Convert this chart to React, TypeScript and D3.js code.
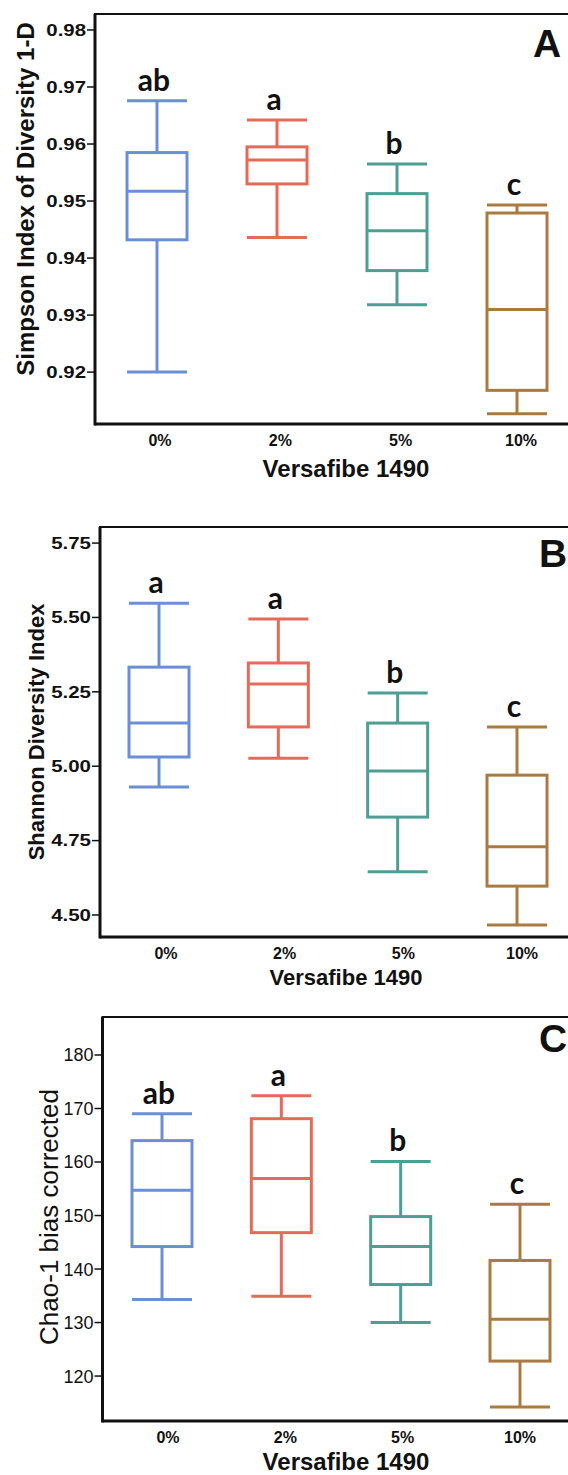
import React from "react";
import * as d3 from "d3";

const groups = ["0%", "2%", "5%", "10%"];
const colors = ["#6b8fd6", "#e56b59", "#4d9e93", "#a97b42"];

// panel A - Simpson 1-D
const simpsonLow = [0.92, 0.9436, 0.9318, 0.9127];
const simpsonQ1 = [0.9432, 0.953, 0.9378, 0.9168];
const simpsonMedian = [0.9517, 0.9572, 0.9448, 0.931];
const simpsonQ3 = [0.9585, 0.9595, 0.9513, 0.9479];
const simpsonHigh = [0.9676, 0.9642, 0.9565, 0.9493];
const simpsonLetters = ["ab", "a", "b", "c"];
const simpsonTicks = [0.92, 0.93, 0.94, 0.95, 0.96, 0.97, 0.98];

// panel B - Shannon
const shannonLow = [4.93, 5.027, 4.645, 4.466];
const shannonQ1 = [5.031, 5.132, 4.829, 4.597];
const shannonMedian = [5.145, 5.276, 4.984, 4.729];
const shannonQ3 = [5.333, 5.347, 5.145, 4.97];
const shannonHigh = [5.548, 5.495, 5.246, 5.132];
const shannonLetters = ["a", "a", "b", "c"];
const shannonTicks = [4.5, 4.75, 5.0, 5.25, 5.5, 5.75];

// panel C - Chao-1
const chaoLow = [134.3, 134.9, 130.0, 114.2];
const chaoQ1 = [144.2, 146.8, 137.1, 122.8];
const chaoMedian = [154.7, 156.9, 144.2, 130.6];
const chaoQ3 = [164.0, 168.1, 149.8, 141.6];
const chaoHigh = [169.0, 172.4, 160.1, 152.1];
const chaoLetters = ["ab", "a", "b", "c"];
const chaoTicks = [120, 130, 140, 150, 160, 170, 180];

const arial = "'Liberation Sans', Arial, sans-serif";
const lato = "Lato, 'Open Sans', sans-serif";

type PanelProps = {
  id: string;
  title: string;
  low: number[];
  q1: number[];
  median: number[];
  q3: number[];
  high: number[];
  letters: string[];
  ticks: number[];
  fmt: string;
  domain: [number, number];
  top: number;
  bottom: number;
  left: number;
  boxRange: [number, number];
  labelRange: [number, number];
  yTickSize: number;
  yTickWeight: string;
  yTickStretch: number;
  yTitle: { size: number; weight: string; x: number; y: number };
  xTitleY: number;
  xTitleSize: number;
  idPos: [number, number];
};

function Panel(p: PanelProps) {
  const y = d3.scaleLinear().domain(p.domain).range([p.bottom, p.top]);
  const x = d3.scalePoint<string>().domain(groups).range(p.boxRange);
  const xl = d3.scalePoint<string>().domain(groups).range(p.labelRange);
  const f = d3.format(p.fmt);
  const half = 30;

  return (
    <g>
      {/* frame */}
      <rect x={p.left} y={p.top} width={620} height={p.bottom - p.top}
        fill="none" stroke="#111" strokeWidth={2} />
      <line x1={p.left} x2={p.left} y1={p.top} y2={p.bottom + 1.5} stroke="#111" strokeWidth={3} />
      <line x1={p.left} x2={600} y1={p.bottom} y2={p.bottom} stroke="#111" strokeWidth={3} />

      {/* y ticks */}
      {p.ticks.map((t) => (
        <g key={t}>
          <line x1={p.left - 8} x2={p.left} y1={y(t)} y2={y(t)} stroke="#111" strokeWidth={1.5} />
          <text
            transform={`translate(${p.left - 9},${y(t)}) scale(${p.yTickStretch},1)`}
            dy="0.36em" textAnchor="end" fontFamily={arial}
            fontSize={p.yTickSize} fontWeight={p.yTickWeight} fill="#111">
            {f(t)}
          </text>
        </g>
      ))}

      {/* boxes */}
      {groups.map((g, i) => {
        const cx = x(g) as number;
        const c = colors[i];
        return (
          <g key={g} stroke={c} strokeWidth={3} fill="none">
            <line x1={cx} x2={cx} y1={y(p.high[i])} y2={y(p.q3[i])} />
            <line x1={cx} x2={cx} y1={y(p.q1[i])} y2={y(p.low[i])} />
            <line x1={cx - half} x2={cx + half} y1={y(p.high[i])} y2={y(p.high[i])} />
            <line x1={cx - half} x2={cx + half} y1={y(p.low[i])} y2={y(p.low[i])} />
            <rect x={cx - half} y={y(p.q3[i])} width={half * 2}
              height={y(p.q1[i]) - y(p.q3[i])} fill="#fff" />
            <line x1={cx - half} x2={cx + half} y1={y(p.median[i])} y2={y(p.median[i])} />
            <text x={cx - 3} y={y(p.high[i]) - 10} textAnchor="middle" stroke="none"
              fill="#111" fontFamily={lato} fontWeight="bold" fontSize={30}>
              {p.letters[i]}
            </text>
          </g>
        );
      })}

      {/* x tick labels */}
      {groups.map((g) => (
        <text key={g} x={xl(g)} y={p.bottom + 22} textAnchor="middle"
          fontFamily={arial} fontWeight="bold" fontSize={16} fill="#111">
          {g}
        </text>
      ))}

      <text x={346} y={p.xTitleY} textAnchor="middle" fontFamily={arial}
        fontWeight="bold" fontSize={p.xTitleSize} fill="#111">
        Versafibe 1490
      </text>

      <text transform={`translate(${p.yTitle.x},${p.yTitle.y}) rotate(-90)`}
        textAnchor="middle" fontFamily={arial} fontWeight={p.yTitle.weight}
        fontSize={p.yTitle.size} fill="#111">
        {p.title}
      </text>

      <text x={p.idPos[0]} y={p.idPos[1]} fontFamily={arial} fontWeight="bold"
        fontSize={39} fill="#111">
        {p.id}
      </text>
    </g>
  );
}

export default function App() {
  return (
    <svg width={568} height={1475}
      style={{ position: "absolute", left: 0, top: 0, background: "#fff" }}>
      <rect width={568} height={1475} fill="#fff" />
      <Panel
        id="A" title="Simpson Index of Diversity 1-D"
        low={simpsonLow} q1={simpsonQ1} median={simpsonMedian} q3={simpsonQ3}
        high={simpsonHigh} letters={simpsonLetters} ticks={simpsonTicks}
        fmt=".2f" domain={[0.9109, 0.9828]}
        top={14} bottom={424} left={95}
        boxRange={[157, 517]} labelRange={[160, 521]}
        yTickSize={17} yTickWeight="bold" yTickStretch={1.2}
        yTitle={{ size: 24, weight: "bold", x: 34, y: 199 }}
        xTitleY={477} xTitleSize={24} idPos={[533, 57]}
      />
      <Panel
        id="B" title="Shannon Diversity Index"
        low={shannonLow} q1={shannonQ1} median={shannonMedian} q3={shannonQ3}
        high={shannonHigh} letters={shannonLetters} ticks={shannonTicks}
        fmt=".2f" domain={[4.426, 5.804]}
        top={527} bottom={937} left={100}
        boxRange={[159, 517]} labelRange={[166, 522]}
        yTickSize={16} yTickWeight="bold" yTickStretch={1.28}
        yTitle={{ size: 22, weight: "bold", x: 44, y: 732 }}
        xTitleY={985} xTitleSize={22} idPos={[539, 567]}
      />
      <Panel
        id="C" title="Chao-1 bias corrected"
        low={chaoLow} q1={chaoQ1} median={chaoMedian} q3={chaoQ3}
        high={chaoHigh} letters={chaoLetters} ticks={chaoTicks}
        fmt="d" domain={[111.6, 187.1]}
        top={1017} bottom={1421} left={102.5}
        boxRange={[162, 520]} labelRange={[168, 520]}
        yTickSize={18} yTickWeight="normal" yTickStretch={1}
        yTitle={{ size: 26, weight: "normal", x: 58, y: 1217 }}
        xTitleY={1470} xTitleSize={24} idPos={[539, 1052]}
      />
    </svg>
  );
}
